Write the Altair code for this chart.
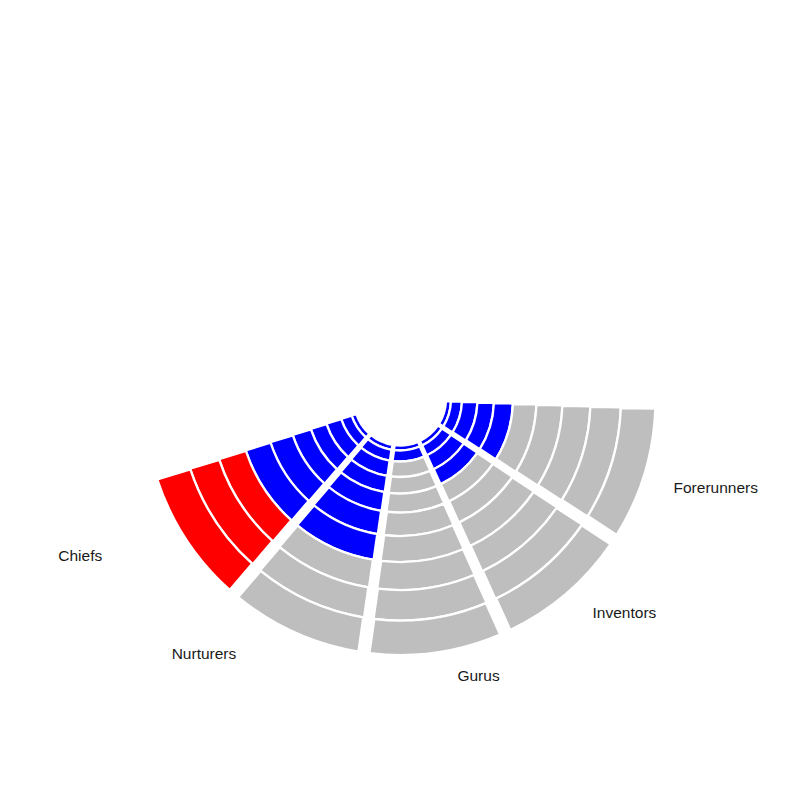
import math
import altair as alt
import pandas as pd

# ---- data ----
sectors = ["Forerunners", "Inventors", "Gurus", "Nurturers", "Chiefs"]
ring_edges = [46, 51, 62, 77.5, 94, 113, 136.5, 162.5, 190.5, 221, 255.5]
blue_rings = [5, 4, 2, 7, 7]      # inner rings coloured blue
red_rings = [0, 0, 0, 0, 3]       # outer rings coloured red
label_pos = [0.46, 1.32, 2.26, 3.91, 4.72]   # label angle, in sector units
label_radius = [328, 310, 287, 321, 356]

n_rings = len(ring_edges) - 1
rows = []
for i, name in enumerate(sectors):
    for k in range(n_rings):
        if k < blue_rings[i]:
            status = "blue"
        elif k >= n_rings - red_rings[i]:
            status = "red"
        else:
            status = "grey"
        rows.append({"sector": name, "t0": i, "t1": i + 1,
                     "r0": ring_edges[k], "r1": ring_edges[k + 1],
                     "status": status})
df = pd.DataFrame(rows)
labels = pd.DataFrame({"sector": sectors, "pos": label_pos, "rad": label_radius})

theta_scale = alt.Scale(domain=[0, 5], range=[math.radians(90.8), math.radians(253.0)])
r_max = ring_edges[-1]
radius_scale = alt.Scale(type="linear", domain=[0, r_max], range=[0, r_max], zero=True)

cx, cy = 392, 391.5

arcs = alt.Chart(df).mark_arc(
    padAngle=0.033, stroke="white", strokeWidth=2.3
).encode(
    x=alt.value(cx), y=alt.value(cy),
    theta=alt.Theta("t0:Q", scale=theta_scale, stack=False),
    theta2="t1:Q",
    radius=alt.Radius("r1:Q", scale=radius_scale),
    radius2="r0:Q",
    color=alt.Color("status:N",
                    scale=alt.Scale(domain=["blue", "grey", "red"],
                                    range=["#0000ff", "#bebebe", "#ff0000"]),
                    legend=None),
)

text = alt.Chart(labels).mark_text(
    font="Liberation Sans", fontSize=15.5, color="#1a1a1a",
    align="center", baseline="middle"
).encode(
    x=alt.value(cx), y=alt.value(cy),
    theta=alt.Theta("pos:Q", scale=theta_scale, stack=False),
    radius=alt.Radius("rad:Q", scale=radius_scale),
    text="sector:N",
)

chart = alt.layer(arcs, text).properties(
    width=784, height=784, padding=0, autosize=alt.AutoSizeParams(type="none")
).configure_view(stroke=None)

chart.save("out.html", embed_options={"renderer": "svg", "actions": False})
